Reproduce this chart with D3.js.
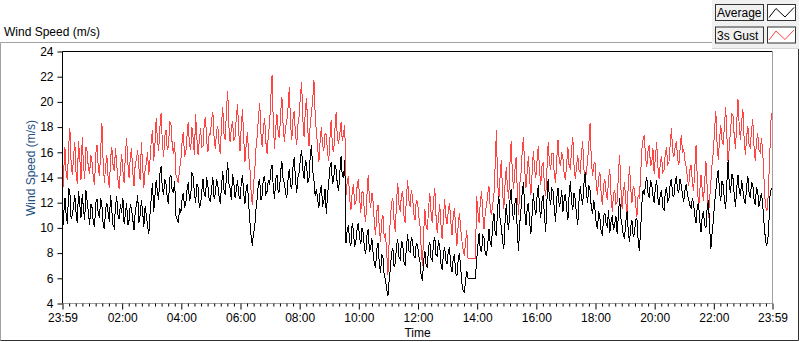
<!DOCTYPE html>
<html>
<head>
<meta charset="utf-8">
<script src="https://cdn.jsdelivr.net/npm/d3@7"></script>
<style>
  body { margin: 0; background: #fff; }
  text { font-family: "Liberation Sans", Arial, sans-serif; }
</style>
</head>
<body>
<div id="chart-area"></div>
<script>
// Wind speed over one day, one sample every 2.5 minutes from 23:59
var avgSpeed = [
    9.6, 11.1, 12.4, 11.0, 10.3, 13.2, 12.8, 10.7, 11.0, 11.8, 12.6, 11.2,
    10.4, 12.9, 11.9, 10.8, 12.7, 11.5, 10.6, 13.0, 12.1, 11.3, 10.2, 11.9,
    11.6, 10.4, 10.1, 12.0, 12.3, 11.1, 10.8, 12.4, 11.7, 10.3, 9.9, 11.5,
    12.0, 11.2, 10.5, 12.6, 11.4, 10.2, 10.0, 11.8, 12.5, 11.0, 10.7, 11.9,
    11.2, 12.4, 10.3, 11.1, 12.0, 10.2, 10.6, 11.9, 11.5, 10.7, 9.8, 11.3,
    11.8, 12.6, 10.4, 11.0, 12.2, 11.3, 10.1, 11.7, 11.0, 10.2, 9.5, 11.1,
    12.4, 13.6, 11.3, 12.5, 13.8, 12.9, 12.2, 14.3, 14.9, 13.1, 12.6, 13.9,
    13.5, 12.4, 11.9, 14.0, 14.2, 12.9, 12.8, 13.7, 11.0, 10.7, 10.4, 11.6,
    11.2, 12.3, 12.8, 11.7, 11.9, 13.0, 13.6, 12.2, 12.4, 14.4, 14.1, 12.7,
    12.0, 13.5, 13.2, 11.6, 11.8, 12.9, 13.9, 12.6, 12.5, 14.0, 13.3, 12.2,
    12.1, 13.2, 14.0, 12.3, 12.7, 13.9, 13.4, 12.5, 11.9, 13.3, 14.5, 13.0,
    12.6, 14.1, 15.2, 13.5, 13.1, 12.2, 14.3, 13.6, 12.4, 13.0, 13.8, 12.6,
    12.3, 13.5, 14.2, 12.8, 11.9, 13.1, 13.5, 12.0, 10.5, 9.4, 8.6, 9.6,
    10.1, 11.5, 12.4, 13.6, 13.8, 12.2, 12.6, 14.0, 14.1, 12.7, 12.9, 13.8,
    13.4, 14.6, 15.0, 13.2, 12.3, 13.9, 14.2, 12.8, 12.9, 14.5, 15.3, 13.8,
    13.6, 12.7, 12.4, 13.9, 14.7, 13.4, 13.1, 14.8, 15.6, 13.9, 12.8, 14.0,
    14.4, 15.5, 16.2, 14.6, 13.9, 15.3, 15.1, 13.6, 14.0, 15.7, 16.6, 14.5,
    13.8, 12.5, 13.1, 12.2, 11.6, 12.9, 13.4, 11.8, 12.0, 13.1, 11.1, 12.6,
    13.6, 14.8, 15.2, 13.5, 13.9, 15.0, 14.6, 13.4, 12.9, 14.4, 15.7, 14.1,
    14.0, 15.4, 8.8, 9.9, 10.1, 8.9, 8.6, 10.4, 9.8, 8.5, 8.9, 9.9,
    10.4, 9.2, 8.7, 10.0, 9.6, 8.3, 7.9, 9.4, 9.9, 8.1, 8.4, 9.2,
    8.0, 7.1, 6.9, 8.3, 8.8, 7.2, 6.4, 7.9, 7.6, 6.2, 5.9, 5.1,
    4.6, 5.8, 6.8, 8.0, 8.4, 6.9, 7.2, 8.6, 9.1, 7.7, 7.5, 8.9,
    8.8, 7.3, 7.0, 8.5, 9.5, 8.2, 8.1, 9.3, 9.0, 7.8, 7.6, 8.8,
    8.7, 7.8, 7.3, 6.2, 5.8, 7.4, 8.2, 7.0, 6.9, 8.5, 8.9, 7.6,
    7.4, 8.8, 9.3, 7.9, 7.8, 9.0, 8.6, 7.2, 6.7, 7.9, 8.5, 7.4,
    7.1, 8.2, 8.4, 7.0, 6.5, 7.6, 7.9, 6.4, 6.2, 7.5, 8.0, 6.9,
    5.6, 5.0, 4.9, 5.8, 6.6, 6.0, 6.0, 6.0, 6.0, 6.0, 6.0, 6.0,
    7.5, 8.6, 9.6, 8.2, 8.1, 9.4, 9.2, 7.9, 7.8, 8.7, 9.9, 8.8,
    8.6, 10.3, 11.2, 9.6, 9.4, 11.6, 12.5, 10.7, 10.1, 9.0, 8.3, 10.4,
    11.9, 10.5, 9.8, 12.2, 13.1, 11.3, 10.6, 11.9, 12.4, 9.6, 8.2, 10.4,
    11.5, 12.9, 13.6, 11.4, 10.2, 11.6, 12.0, 10.4, 9.5, 11.1, 12.8, 11.6,
    11.0, 12.5, 13.4, 11.6, 10.8, 12.1, 12.6, 10.9, 9.7, 12.2, 13.9, 12.4,
    11.8, 13.1, 12.9, 11.5, 10.5, 12.4, 13.2, 11.7, 12.0, 13.0, 11.3, 12.3,
    12.7, 11.5, 10.6, 12.6, 13.7, 12.1, 11.4, 12.8, 12.3, 11.0, 10.2, 12.1,
    13.3, 12.4, 11.8, 13.5, 14.4, 12.8, 12.0, 13.4, 13.0, 11.6, 11.1, 12.2,
    11.4, 10.4, 9.9, 11.3, 10.8, 9.7, 9.4, 10.9, 11.2, 10.3, 10.1, 11.4,
    9.6, 10.5, 11.0, 9.8, 10.3, 10.9, 9.5, 11.1, 12.4, 10.8, 10.2, 9.4,
    9.2, 10.5, 11.3, 9.7, 8.9, 10.1, 10.6, 9.3, 9.5, 10.7, 10.8, 9.0,
    8.2, 9.8, 11.9, 13.0, 12.6, 13.5, 14.0, 12.8, 12.4, 13.7, 13.5, 12.6,
    12.0, 13.2, 13.8, 12.4, 11.8, 12.7, 12.9, 11.6, 11.4, 12.8, 13.2, 12.1,
    12.3, 13.5, 13.9, 12.6, 12.5, 13.6, 14.1, 13.0, 12.8, 13.9, 13.4, 12.6,
    12.1, 13.0, 13.5, 12.6, 12.3, 11.8, 11.6, 12.4, 11.9, 10.9, 10.4, 11.7,
    12.0, 10.6, 9.7, 10.9, 11.3, 10.2, 10.0, 11.6, 12.2, 10.1, 8.3, 9.6,
    10.6, 12.0, 12.9, 14.0, 14.6, 12.9, 12.1, 13.7, 13.4, 12.2, 11.5, 13.6,
    15.4, 13.3, 12.8, 14.3, 13.9, 12.6, 11.7, 13.2, 14.2, 13.0, 12.5, 13.8,
    13.0, 12.2, 11.9, 13.3, 14.1, 12.8, 12.4, 13.6, 13.5, 12.3, 11.8, 13.2,
    12.9, 11.7, 12.2, 12.8, 12.0, 10.5, 9.4, 8.6, 8.8, 10.2, 12.6, 13.1,
    13.0
];

var gustSpeed = [
    12.3, 14.6, 16.4, 14.2, 13.8, 16.5, 17.9, 15.1, 14.2, 15.7, 16.8, 14.4,
    13.5, 16.9, 15.6, 13.8, 17.2, 15.0, 13.9, 16.4, 16.1, 14.7, 14.3, 15.8,
    15.2, 14.0, 13.4, 15.9, 16.6, 14.8, 14.1, 16.2, 18.3, 15.1, 13.6, 14.9,
    15.8, 14.0, 13.2, 15.5, 16.4, 15.0, 14.5, 16.3, 15.0, 13.8, 13.1, 14.6,
    15.9, 14.5, 13.6, 15.8, 17.1, 15.2, 14.0, 15.6, 16.3, 14.4, 13.3, 15.1,
    15.4, 16.2, 14.7, 13.8, 16.8, 14.9, 13.2, 14.6, 15.1, 16.0, 14.2, 15.4,
    16.9, 17.8, 15.3, 16.6, 18.7, 17.0, 16.1, 18.0, 19.1, 16.8, 15.6, 17.3,
    17.8, 16.2, 16.4, 18.5, 18.2, 16.6, 15.9, 16.8, 14.2, 13.9, 13.6, 14.7,
    15.3, 16.8, 17.6, 15.7, 15.9, 17.3, 18.4, 16.6, 16.2, 18.0, 17.1, 15.8,
    19.0, 17.2, 15.8, 16.9, 17.9, 16.4, 16.5, 18.3, 18.8, 16.9, 16.0, 17.5,
    17.4, 18.6, 19.2, 17.1, 16.3, 17.7, 18.1, 16.6, 15.9, 18.2, 19.6, 17.5,
    17.0, 19.3, 20.9, 18.0, 16.8, 17.9, 18.5, 16.9, 17.2, 18.8, 19.8, 17.6,
    16.1, 18.0, 19.4, 17.2, 15.2, 16.6, 17.6, 15.8, 14.8, 12.9, 11.8, 13.4,
    14.6, 16.4, 17.3, 18.8, 19.9, 17.5, 16.4, 18.0, 18.7, 16.8, 15.9, 17.4,
    18.2, 20.3, 22.1, 18.4, 16.3, 17.9, 19.0, 17.5, 17.1, 19.2, 20.4, 18.1,
    16.8, 18.0, 18.5, 19.6, 21.2, 18.3, 17.0, 18.6, 19.3, 17.4, 16.6, 18.2,
    18.9, 20.5, 21.6, 18.6, 17.2, 19.4, 20.3, 17.8, 16.5, 18.3, 19.1, 20.2,
    21.7, 18.9, 17.6, 16.4, 15.2, 16.9, 18.0, 16.6, 16.1, 17.5, 17.4, 16.0,
    15.3, 17.2, 18.6, 16.4, 16.0, 17.8, 19.2, 17.1, 16.7, 17.5, 18.4, 16.9,
    17.5, 18.2, 12.6, 13.7, 14.1, 12.3, 11.4, 12.8, 13.5, 11.9, 12.0, 13.3,
    13.9, 12.4, 11.2, 12.9, 12.8, 11.1, 10.5, 12.6, 14.2, 12.3, 11.6, 12.8,
    12.1, 10.4, 9.4, 11.3, 11.8, 10.0, 8.9, 10.6, 11.0, 9.2, 9.6, 8.1,
    6.3, 8.9, 10.8, 12.0, 12.4, 10.5, 9.7, 12.1, 13.6, 11.8, 11.3, 12.7,
    12.9, 11.0, 10.4, 12.4, 13.8, 12.2, 11.7, 13.0, 12.5, 11.1, 10.6, 12.2,
    12.1, 11.0, 10.2, 8.4, 7.0, 9.6, 11.5, 10.1, 9.8, 11.6, 12.8, 11.2,
    10.4, 12.1, 13.2, 11.0, 9.6, 10.8, 11.9, 10.3, 9.1, 10.7, 12.3, 10.9,
    10.3, 11.4, 12.0, 10.5, 9.4, 10.9, 11.6, 9.9, 8.6, 10.2, 11.2, 10.0,
    9.0, 8.3, 7.8, 8.9, 9.8, 7.6, 7.6, 7.6, 7.6, 7.6, 7.6, 7.6,
    12.5, 11.3, 10.4, 12.1, 12.9, 11.0, 9.9, 11.2, 11.8, 12.7, 13.3, 11.6,
    11.0, 11.9, 12.6, 14.9, 17.8, 13.6, 12.2, 14.1, 15.4, 12.9, 11.5, 13.4,
    14.8, 13.2, 12.3, 15.1, 16.9, 14.2, 13.1, 14.6, 15.6, 12.8, 11.0, 13.5,
    14.4, 16.2, 17.2, 14.6, 13.2, 14.5, 15.7, 13.8, 12.6, 14.4, 16.1, 14.7,
    14.0, 15.4, 16.5, 14.6, 13.4, 14.9, 15.2, 13.3, 12.5, 14.6, 16.8, 15.2,
    14.6, 15.9, 15.9, 14.2, 13.6, 15.5, 17.0, 15.3, 14.9, 16.0, 15.5, 14.3,
    13.8, 15.1, 16.4, 14.9, 14.7, 16.3, 17.2, 15.0, 13.9, 14.8, 15.8, 14.6,
    14.4, 15.9, 16.9, 14.7, 13.6, 14.5, 15.3, 16.7, 18.3, 15.4, 14.1, 15.0,
    15.2, 13.5, 12.6, 14.0, 14.4, 12.7, 11.8, 13.4, 13.9, 12.8, 12.2, 13.9,
    14.7, 12.6, 11.3, 12.7, 13.0, 11.9, 12.1, 14.3, 15.8, 13.2, 11.5, 12.9,
    13.6, 12.0, 11.2, 13.4, 14.9, 13.1, 12.0, 13.3, 13.1, 11.8, 10.9, 12.6,
    12.4, 14.1, 16.2, 17.0, 17.4, 15.6, 14.8, 16.1, 16.6, 15.0, 15.1, 16.3,
    14.3, 15.6, 16.8, 14.9, 13.9, 15.2, 15.7, 14.4, 14.6, 15.9, 16.4, 15.0,
    15.2, 16.6, 17.9, 16.1, 15.6, 16.4, 16.9, 15.5, 15.0, 16.2, 17.4, 16.0,
    16.2, 15.3, 14.8, 14.0, 13.3, 14.6, 15.0, 13.6, 12.9, 14.8, 16.6, 13.9,
    11.4, 12.9, 14.2, 13.0, 12.1, 13.7, 15.3, 13.2, 10.8, 12.3, 13.6, 15.1,
    16.0, 17.8, 19.3, 16.8, 15.4, 16.9, 18.2, 17.0, 16.6, 18.1, 19.6, 17.3,
    15.1, 16.5, 17.8, 19.0, 18.9, 17.2, 16.3, 18.4, 20.2, 18.1, 17.0, 18.5,
    19.4, 17.0, 15.8, 17.2, 18.1, 16.6, 16.4, 17.8, 18.6, 16.5, 15.3, 16.8,
    17.5, 16.2, 16.0, 17.1, 16.2, 14.1, 12.2, 11.4, 11.5, 13.8, 16.4, 19.1,
    18.8
];

var seriesNames = ["Average", "3s Gust"];
var seriesColors = ["#000000", "#ff4444"];
var yTicks = [4, 6, 8, 10, 12, 14, 16, 18, 20, 22, 24];
var xTickLabels = ["23:59", "02:00", "04:00", "06:00", "08:00", "10:00", "12:00",
                   "14:00", "16:00", "18:00", "20:00", "22:00", "23:59"];

var width = 800, height = 342;
var plot = { left: 62.5, right: 772.5, top: 51.5, bottom: 303.5 };

var svg = d3.select("#chart-area")
    .append("svg")
    .attr("width", width)
    .attr("height", height);

var start = new Date(2000, 0, 1, 23, 59);
var end = d3.timeMinute.offset(start, 1440);
var sampleTime = function(d, i) { return d3.timeSecond.offset(start, i * 150); };

// Scales
var x = d3.scaleTime().domain([start, end]).range([plot.left, plot.right]);
var y = d3.scaleLinear().domain([4, 24]).range([plot.bottom, plot.top]);

// Outer panel
svg.append("path")
    .attr("d", "M712,42.5 H0.5 V340.5")
    .attr("fill", "none").attr("stroke", "#a0a0a0");
svg.append("path")
    .attr("d", "M0.5,340.5 H798.5 V48")
    .attr("fill", "none").attr("stroke", "#333");
svg.append("text")
    .attr("x", 4).attr("y", 36)
    .attr("font-size", "12px")
    .attr("fill", "#000")
    .text("Wind Speed (m/s)");

// Plot area
svg.append("rect")
    .attr("x", plot.left).attr("y", plot.top)
    .attr("width", plot.right - plot.left).attr("height", plot.bottom - plot.top)
    .attr("fill", "#fff");

// Lines
var line = d3.line()
    .x(function(d, i) { return x(sampleTime(d, i)); })
    .y(function(d) { return y(d); });

svg.append("clipPath").attr("id", "clip")
    .append("rect")
    .attr("x", plot.left).attr("y", plot.top)
    .attr("width", plot.right - plot.left).attr("height", plot.bottom - plot.top);

var g = svg.append("g").attr("clip-path", "url(#clip)");
g.append("path")
    .datum(gustSpeed)
    .attr("fill", "none")
    .attr("stroke", seriesColors[1])
    .attr("stroke-width", 1)
    .attr("shape-rendering", "crispEdges")
    .attr("d", line);
g.append("path")
    .datum(avgSpeed)
    .attr("fill", "none")
    .attr("stroke", seriesColors[0])
    .attr("stroke-width", 1)
    .attr("shape-rendering", "crispEdges")
    .attr("d", line);

// Frame
svg.append("path")
    .attr("d", "M" + plot.left + "," + plot.bottom + " V" + plot.top + " H" + plot.right)
    .attr("fill", "none").attr("stroke", "#000");
svg.append("path")
    .attr("d", "M" + plot.right + "," + plot.top + " V" + plot.bottom + " H" + plot.left)
    .attr("fill", "none").attr("stroke", "#a0a0a0");

// Y-axis
var yAxisCall = d3.axisLeft(y)
    .tickValues(yTicks)
    .tickSize(5)
    .tickPadding(4)
    .tickFormat(d3.format("d"));
var yAxis = svg.append("g")
    .attr("class", "y axis")
    .attr("transform", "translate(" + plot.left + ",0)")
    .call(yAxisCall);
yAxis.select(".domain").remove();
yAxis.selectAll("text").attr("font-size", "12px").attr("fill", "#000")
    .attr("font-family", "Liberation Sans, Arial, sans-serif");
yAxis.selectAll("line").attr("stroke", "#000");

// X-axis (major ticks with labels + 8 minor ticks in between)
var majorTicks = [start];
for (var h = 2; h <= 22; h += 2) majorTicks.push(new Date(2000, 0, 2, h, 0));
majorTicks.push(end);

var minorTicks = [];
for (var k = 0; k < majorTicks.length - 1; ++k) {
    var a = +majorTicks[k], b = +majorTicks[k + 1];
    for (var m = 1; m <= 8; ++m) minorTicks.push(new Date(a + (b - a) * m / 9));
}

var xAxisCall = d3.axisBottom(x)
    .tickValues(majorTicks)
    .tickSize(6)
    .tickPadding(4)
    .tickFormat(function(d, i) { return xTickLabels[i]; });
var xAxis = svg.append("g")
    .attr("class", "x axis")
    .attr("transform", "translate(0," + plot.bottom + ")")
    .call(xAxisCall);
xAxis.select(".domain").remove();
xAxis.selectAll("text").attr("font-size", "12px").attr("fill", "#000")
    .attr("font-family", "Liberation Sans, Arial, sans-serif");
xAxis.selectAll("line").attr("stroke", "#000");

var xMinor = svg.append("g")
    .attr("transform", "translate(0," + plot.bottom + ")")
    .call(d3.axisBottom(x).tickValues(minorTicks).tickSize(3).tickFormat(""));
xMinor.select(".domain").remove();
xMinor.selectAll("line").attr("stroke", "#000");

// Axis labels
svg.append("text")
    .attr("transform", "translate(35,168) rotate(-90)")
    .attr("text-anchor", "middle")
    .attr("font-size", "12px")
    .attr("fill", "#1f4f86")
    .text("Wind Speed (m/s)");
svg.append("text")
    .attr("x", (plot.left + plot.right) / 2)
    .attr("y", 337)
    .attr("text-anchor", "middle")
    .attr("font-size", "12px")
    .attr("fill", "#000")
    .text("Time");

// Legend
var legend = svg.append("g").attr("class", "legend");
legend.append("rect")
    .attr("x", 712).attr("y", 0).attr("width", 87).attr("height", 48)
    .attr("fill", "#f0f0f0");
legend.append("line")
    .attr("x1", 712).attr("x2", 799).attr("y1", 48.5).attr("y2", 48.5)
    .attr("stroke", "#d8d8d8");

var icon = d3.line();
seriesNames.forEach(function(name, i) {
    var top = 4.5 + i * 22.5;
    legend.append("rect")
        .attr("x", 715.5).attr("y", top).attr("width", 48).attr("height", 16)
        .attr("fill", "#f0f0f0").attr("stroke", "#333");
    legend.append("text")
        .attr("x", 717).attr("y", top + 12.5)
        .attr("font-size", "12px")
        .attr("fill", "#000")
        .text(name);
    legend.append("rect")
        .attr("x", 767.5).attr("y", top).attr("width", 28).attr("height", 16)
        .attr("fill", "#fff").attr("stroke", "#333");
    legend.append("path")
        .attr("d", icon([[769, top + 13], [776, top + 4], [785, top + 12.5], [794, top + 3]]))
        .attr("fill", "none")
        .attr("stroke", seriesColors[i]);
});
</script>
</body>
</html>
